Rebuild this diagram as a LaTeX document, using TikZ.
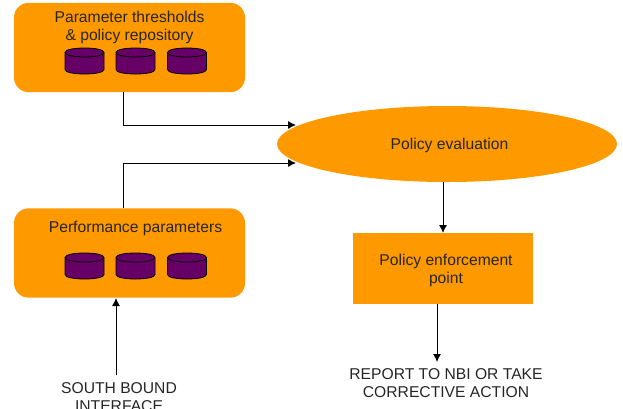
\documentclass[tikz,border=0pt]{standalone}
\usepackage{fontspec}
\setmainfont{Liberation Sans}
\usetikzlibrary{shapes.geometric,arrows.meta}
\definecolor{boxorange}{HTML}{FF9900}
\definecolor{dbpurple}{HTML}{660066}
\tikzset{
	panel/.style={fill=boxorange,rounded corners=11pt,minimum width=173.25pt,minimum height=67pt,inner sep=0pt},
	drum/.pic={
		\filldraw[fill=dbpurple,line width=0.6pt] (-19.5,-8.5)--(-19.5,8.5) .. controls (-19.5,14.5) and (19.5,14.5) .. (19.5,8.5)--(19.5,-8.5) .. controls (19.5,-14.5) and (-19.5,-14.5) .. cycle;
		\draw[line width=0.6pt] (-19.5,-8.5) .. controls (-19.5,-2.5) and (19.5,-2.5) .. (19.5,-8.5);
	},
	lbl/.style={font=\fontsize{11.75pt}{13.5pt}\selectfont,align=center,inner sep=0pt,text=black!85},
	conn/.style={line width=0.7pt,-{Latex[length=6pt,width=6pt]}}
}
\begin{document}
\begin{tikzpicture}[x=0.75pt,y=-0.75pt]
	\useasboundingbox (0,0) rectangle (623,408);
	\clip (0,0) rectangle (623,408);
	\node[panel] (repo) at (129.5,47.5) {};
	\node[panel] (perf) at (129.5,253) {};
	\node[ellipse,fill=boxorange,minimum width=255pt,minimum height=57pt,inner sep=0pt] (eval) at (447,144) {};
	\node[fill=boxorange,minimum width=135pt,minimum height=53.25pt,inner sep=0pt] (pep) at (443,268.5) {};
	\pic at (84.5,61) {drum};
	\pic at (135.5,61) {drum};
	\pic at (187,61) {drum};
	\pic at (84.5,266) {drum};
	\pic at (135.5,266) {drum};
	\pic at (187,266) {drum};
	\node[lbl] (repotext) at (129.5,27) {Parameter thresholds\\\& policy repository};
	\node[lbl] (perftext) at (135.5,228) {Performance parameters};
	\node[lbl] (evaltext) at (449.5,145) {Policy evaluation};
	\node[lbl] (peptext) at (446,270) {Policy enforcement\\point};
	\node[lbl] (sbi) at (119,397.5) {SOUTH BOUND\\INTERFACE};
	\node[lbl] (report) at (446,383.5) {REPORT TO NBI OR TAKE\\CORRECTIVE ACTION};
	\coordinate (repoout) at (123,92);
	\coordinate (perfout) at (123,208);
	\coordinate (perfin) at (116,298);
	\coordinate (sbiout) at (116,375);
	\coordinate (evalinup) at (296,125);
	\coordinate (evalindown) at (296,163);
	\coordinate (evalout) at (443,182);
	\coordinate (pepin) at (443,233);
	\coordinate (pepout) at (437,304);
	\coordinate (reportin) at (437,362);
	\draw[conn] (repoout) |- (evalinup);
	\draw[conn] (perfout) |- (evalindown);
	\draw[conn] (sbiout) -- (perfin);
	\draw[conn] (evalout) -- (pepin);
	\draw[conn] (pepout) -- (reportin);
\end{tikzpicture}
\end{document}
